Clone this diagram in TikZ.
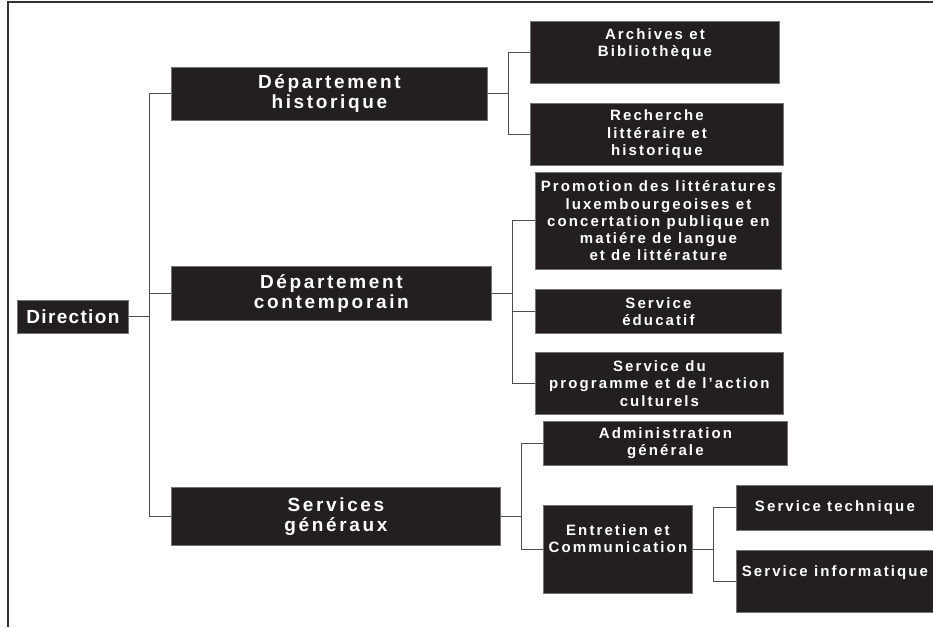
\documentclass[tikz,border=0pt]{standalone}
\usepackage{fontspec}
\setmainfont{Liberation Sans}[LetterSpace=14]
\usetikzlibrary{positioning, calc}

\definecolor{boxfill}{HTML}{231F20}
\definecolor{linegray}{HTML}{4D4D4D}

\begin{document}
\begin{tikzpicture}[
                x=1pt, y=-1pt,
                unit/.style={
                        draw=black!55, line width=0.8pt,
                        fill=boxfill, text=white,
                        anchor=north west, align=center,
                        inner xsep=2pt, inner ysep=3pt
                    },
                big/.style={unit, font=\fontsize{19}{20}\selectfont\bfseries},
                small/.style={unit, font=\fontsize{15}{17.3}\selectfont\bfseries},
                conn/.style={draw=linegray, line width=1pt},
                frame/.style={draw=black!80, line width=1.3pt},
                ]

                \useasboundingbox (0,0) rectangle (933,627);
                \draw[frame] (8,627) -- (8,2) -- (933,2);

                % first level
                \node[big, minimum width=111pt, minimum height=33pt] (dir) at (17,300) {\addfontfeature{LetterSpace=7}Direction};
                \node[big, minimum width=316pt, minimum height=53pt] (hist) at (171,67) {Département\\historique};
                \node[big, minimum width=320pt, minimum height=54pt] (cont) at (171,266) {Département\\contemporain};
                \node[big, minimum width=329pt, minimum height=58pt] (serv) at (171,487) {Services\\généraux};

                % services
                \node[small, minimum width=249pt, minimum height=62pt, text depth=20pt] (arch) at (530,21) {Archives et\\Bibliothèque};
                \node[small, minimum width=253pt, minimum height=62pt] (rech) at (530,103) {Recherche\\littéraire et\\historique};
                \node[small, minimum width=246pt, minimum height=97pt] (promo) at (535,172) {Promotion des littératures\\luxembourgeoises et\\concertation publique en\\matiére de langue\\et de littérature};
                \node[small, minimum width=246pt, minimum height=44pt] (educ) at (535,289) {Service\\éducatif};
                \node[small, minimum width=248pt, minimum height=62pt] (prog) at (535,352) {Service du\\programme et de l’action\\culturels};
                \node[small, minimum width=244pt, minimum height=44pt] (admin) at (543,421) {Administration\\générale};
                \node[small, minimum width=149pt, minimum height=88pt, text depth=22pt] (entr) at (543,505) {Entretien et\\Communication};
                \node[small, minimum width=197pt, minimum height=45pt] (tech) at (736,485) {Service technique};
                \node[small, minimum width=197pt, minimum height=62pt, text depth=21pt] (info) at (736,550) {Service informatique};

                % connectors
                \coordinate (j0) at ($(dir.east)+(21,0)$);
                \draw[conn] (dir.east) -- (j0) |- (hist.west);
                \draw[conn] (j0) |- (cont.west);
                \draw[conn] (j0) |- (serv.west);

                \coordinate (j1) at ($(hist.east)+(21,0)$);
                \draw[conn] (hist.east) -- (j1) |- (arch.west);
                \draw[conn] (j1) |- (rech.west);

                \coordinate (j2) at ($(cont.east)+(21,0)$);
                \draw[conn] (cont.east) -- (j2) |- (promo.west);
                \draw[conn] (j2) |- (educ.west);
                \draw[conn] (j2) |- (prog.west);

                \coordinate (j3) at ($(serv.east)+(21,0)$);
                \draw[conn] (serv.east) -- (j3) |- (admin.west);
                \draw[conn] (j3) |- (entr.west);

                \coordinate (j4) at ($(entr.east)+(21,0)$);
                \draw[conn] (entr.east) -- (j4) |- (tech.west);
                \draw[conn] (j4) |- (info.west);
            \end{tikzpicture}
\end{document}
